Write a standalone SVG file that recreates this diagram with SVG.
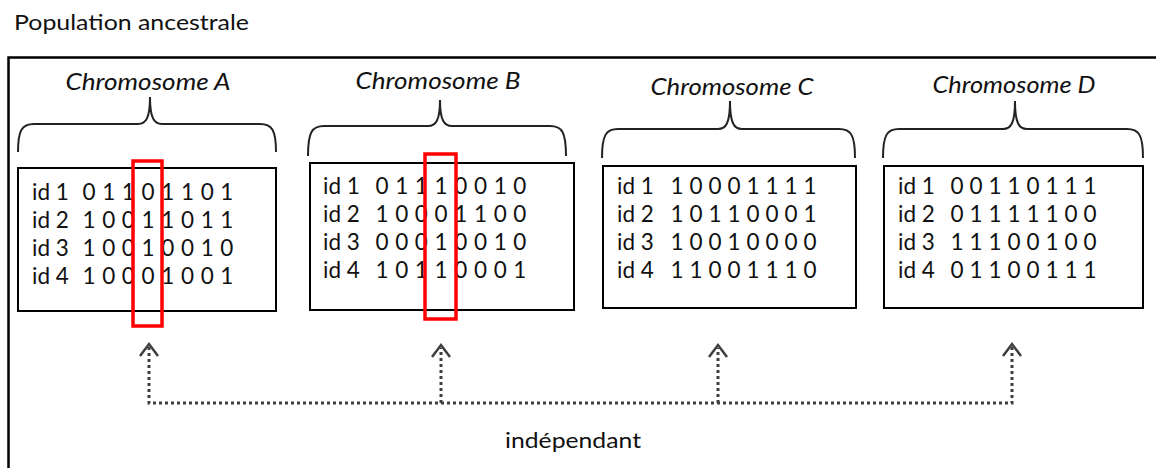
<svg xmlns="http://www.w3.org/2000/svg" width="1156" height="468" viewBox="0 0 1156 468">
<style>
.lbl{font-family:Lato,"Open Sans","Liberation Sans",sans-serif;font-size:22px;fill:#111}
.ttl{font-family:Lato,"Open Sans","Liberation Sans",sans-serif;font-size:23px;font-style:italic;fill:#111;text-anchor:middle}
.row{font-family:Lato,"Open Sans","Liberation Sans",sans-serif;font-size:22.5px;fill:#111}
.bits{font-family:Lato,"Open Sans","Liberation Sans",sans-serif;font-size:22.5px;fill:#111;text-anchor:middle}
.box{fill:#fff;stroke:#000;stroke-width:2}
.brace{fill:none;stroke:#222;stroke-width:2}
.hl{fill:none;stroke:#ff0000;stroke-width:3.5}
.dot{fill:none;stroke:#3f3f3f;stroke-width:3;stroke-dasharray:3 3}
.head{fill:none;stroke:#3f3f3f;stroke-width:2.5;stroke-linejoin:miter}
</style>
<rect width="1156" height="468" fill="#fff"/>
<text class="lbl" x="14" y="30" textLength="235" lengthAdjust="spacingAndGlyphs">Population ancestrale</text>
<rect id="frame" x="8.5" y="57.5" width="1160" height="430" fill="none" stroke="#000" stroke-width="2.5"/>

<g id="chromA">
<text class="ttl" x="148" y="90" textLength="165" lengthAdjust="spacingAndGlyphs">Chromosome A</text>
<path class="brace" d="M18,152 C18,130 22,124 34,124 L138,124 C146,124 150,118 150,97 C150,118 154,124 162,124 L260,124 C272,124 276,130 276,152"/>
<rect class="box" x="18" y="168" width="258" height="143"/>
<text class="row" x="32" y="200">id 1</text>
<text class="row" x="32" y="228">id 2</text>
<text class="row" x="32" y="256">id 3</text>
<text class="row" x="32" y="284">id 4</text>
<text class="bits" x="89 108.7 128.4 148.1 167.8 187.5 207.2 226.9" y="200">01101101</text>
<text class="bits" x="89 108.7 128.4 148.1 167.8 187.5 207.2 226.9" y="228">10011011</text>
<text class="bits" x="89 108.7 128.4 148.1 167.8 187.5 207.2 226.9" y="256">10010010</text>
<text class="bits" x="89 108.7 128.4 148.1 167.8 187.5 207.2 226.9" y="284">10001001</text>
<rect class="hl" x="133" y="161" width="29" height="165"/>
</g>

<g id="chromB">
<text class="ttl" x="438" y="89" textLength="165" lengthAdjust="spacingAndGlyphs">Chromosome B</text>
<path class="brace" d="M308,156 C308,132 312,126 324,126 L428,126 C436,126 440,120 440,100 C440,120 444,126 452,126 L550,126 C562,126 566,132 566,156"/>
<rect class="box" x="310" y="163" width="264" height="147"/>
<text class="row" x="323" y="194">id 1</text>
<text class="row" x="323" y="222">id 2</text>
<text class="row" x="323" y="250">id 3</text>
<text class="row" x="323" y="278">id 4</text>
<text class="bits" x="382 401.7 421.4 441.1 460.8 480.5 500.2 519.9" y="194">01110010</text>
<text class="bits" x="382 401.7 421.4 441.1 460.8 480.5 500.2 519.9" y="222">10001100</text>
<text class="bits" x="382 401.7 421.4 441.1 460.8 480.5 500.2 519.9" y="250">00010010</text>
<text class="bits" x="382 401.7 421.4 441.1 460.8 480.5 500.2 519.9" y="278">10110001</text>
<rect class="hl" x="425" y="154" width="31" height="165"/>
</g>

<g id="chromC">
<text class="ttl" x="732" y="95" textLength="163" lengthAdjust="spacingAndGlyphs">Chromosome C</text>
<path class="brace" d="M602,158 C602,135 606,129 618,129 L718,129 C726,129 730,123 730,101 C730,123 734,129 742,129 L839,129 C851,129 855,135 855,158"/>
<rect class="box" x="603" y="166" width="253" height="142"/>
<text class="row" x="617" y="194">id 1</text>
<text class="row" x="617" y="222">id 2</text>
<text class="row" x="617" y="250">id 3</text>
<text class="row" x="617" y="278">id 4</text>
<text class="bits" x="677 696 715 734 753 772 791 810" y="194">10001111</text>
<text class="bits" x="677 696 715 734 753 772 791 810" y="222">10110001</text>
<text class="bits" x="677 696 715 734 753 772 791 810" y="250">10010000</text>
<text class="bits" x="677 696 715 734 753 772 791 810" y="278">11001110</text>
</g>

<g id="chromD">
<text class="ttl" x="1014" y="93" textLength="163" lengthAdjust="spacingAndGlyphs">Chromosome D</text>
<path class="brace" d="M883,158 C883,135 887,129 899,129 L1003,129 C1011,129 1015,123 1015,101 C1015,123 1019,129 1027,129 L1127,129 C1139,129 1143,135 1143,158"/>
<rect class="box" x="884" y="166" width="259" height="142"/>
<text class="row" x="898" y="194">id 1</text>
<text class="row" x="898" y="222">id 2</text>
<text class="row" x="898" y="250">id 3</text>
<text class="row" x="898" y="278">id 4</text>
<text class="bits" x="957 976 995 1014 1033 1052 1071 1090" y="194">00110111</text>
<text class="bits" x="957 976 995 1014 1033 1052 1071 1090" y="222">01111100</text>
<text class="bits" x="957 976 995 1014 1033 1052 1071 1090" y="250">11100100</text>
<text class="bits" x="957 976 995 1014 1033 1052 1071 1090" y="278">01100111</text>
</g>

<g id="connectors">
<path class="dot" d="M149,347 V403 H1012 V347"/>
<path class="dot" d="M441,403 V348"/>
<path class="dot" d="M718,403 V348"/>
<path class="head" d="M140,356 L149,344 L158,356"/>
<path class="head" d="M432,357 L441,345 L450,357"/>
<path class="head" d="M709,357 L718,345 L727,357"/>
<path class="head" d="M1003,356 L1012,344 L1021,356"/>
</g>
<text id="indep" class="lbl" x="505" y="448" textLength="136" lengthAdjust="spacingAndGlyphs">indépendant</text>
</svg>
